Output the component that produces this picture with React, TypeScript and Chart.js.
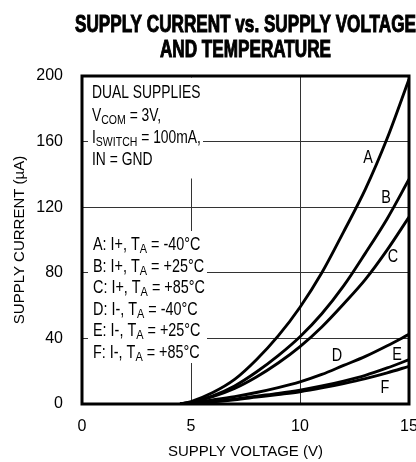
import React, { useEffect, useRef } from "react";
import { Chart, registerables } from "chart.js";

Chart.register(...registerables);

// ---- data ----
const voltage = [4.5, 5, 6, 7, 8, 9, 10, 11, 12, 13, 14, 15];
const curveA = [0, 1.5, 7, 15, 27, 41.5, 59, 80, 105, 131, 162, 198];
const curveB = [0, 1, 5, 11, 19.5, 29.5, 41, 55, 72, 92, 113, 137];
const curveC = [0, 1, 4.5, 9.5, 16.5, 25, 35, 47, 61, 76, 94, 114];
const curveD = [0, 0.7, 2.5, 4.5, 7, 10, 13.5, 18, 23.5, 29, 35.5, 42.5];
const curveE = [0, 0.5, 1.5, 3, 4.8, 6.5, 8.5, 11, 14, 17.5, 22, 27];
const curveF = [0, 0.4, 1.3, 2.6, 4.2, 5.8, 7.5, 9.8, 12.5, 15.5, 19, 23];
const seriesNames = ["A", "B", "C", "D", "E", "F"];
const seriesValues = [curveA, curveB, curveC, curveD, curveE, curveF];
const xTickValues = [0, 5, 10, 15];
const yTickValues = [0, 40, 80, 120, 160, 200];

const titleLines = ["SUPPLY CURRENT vs. SUPPLY VOLTAGE", "AND TEMPERATURE"];
const xTitle = "SUPPLY VOLTAGE (V)";
const yTitle = "SUPPLY CURRENT (\u00B5A)";

type Seg = { t: string; sub?: boolean };
const conditionLines: Seg[][] = [
  [{ t: "DUAL SUPPLIES" }],
  [{ t: "V" }, { t: "COM", sub: true }, { t: " = 3V," }],
  [{ t: "I" }, { t: "SWITCH", sub: true }, { t: " = 100mA," }],
  [{ t: "IN = GND" }],
];
const legendLines: Seg[][] = [
  [{ t: "A: I+, T" }, { t: "A", sub: true }, { t: " = -40\u00B0C" }],
  [{ t: "B: I+, T" }, { t: "A", sub: true }, { t: " = +25\u00B0C" }],
  [{ t: "C: I+, T" }, { t: "A", sub: true }, { t: " = +85\u00B0C" }],
  [{ t: "D: I-, T" }, { t: "A", sub: true }, { t: " = -40\u00B0C" }],
  [{ t: "E: I-, T" }, { t: "A", sub: true }, { t: " = +25\u00B0C" }],
  [{ t: "F: I-, T" }, { t: "A", sub: true }, { t: " = +85\u00B0C" }],
];
const curveLabelPos: [number, number][] = [
  [368, 158],
  [386, 198],
  [393, 257],
  [337, 356],
  [397, 355],
  [385, 388],
];

const FAMILY = '"Liberation Sans", Arial, sans-serif';
const GRID = "#333";

function drawRich(ctx: CanvasRenderingContext2D, x: number, y: number, segs: Seg[], size: number, hs: number) {
  ctx.save();
  ctx.translate(x, y);
  ctx.scale(hs, 1);
  ctx.textBaseline = "alphabetic";
  ctx.textAlign = "left";
  let cx = 0;
  for (const s of segs) {
    const fs = s.sub ? size * 0.76 : size;
    ctx.font = `${fs}px ${FAMILY}`;
    ctx.fillText(s.t, cx, s.sub ? size * 0.18 : 0);
    cx += ctx.measureText(s.t).width;
  }
  ctx.restore();
}

const decorPlugin = {
  id: "decor",
  beforeDatasetsDraw(chart: any) {
    const { ctx, chartArea } = chart;
    ctx.save();
    ctx.fillStyle = "#fff";
    // white boxes behind the in-plot text (they interrupt the grid)
    ctx.fillRect(88, chartArea.top + 1.5, 203 - 88, 177 - chartArea.top);
    ctx.fillRect(88, 231, 207 - 88, 363 - 231);
    ctx.restore();
  },
  afterDraw(chart: any) {
    const { ctx, chartArea } = chart;
    ctx.save();
    // frame
    ctx.strokeStyle = "#000";
    ctx.lineWidth = 3;
    ctx.strokeRect(chartArea.left, chartArea.top, chartArea.right - chartArea.left, chartArea.bottom - chartArea.top);
    ctx.fillStyle = "#000";
    // title
    const cx = (chartArea.left + chartArea.right) / 2;
    ctx.textAlign = "center";
    ctx.textBaseline = "alphabetic";
    ctx.font = `bold 23px ${FAMILY}`;
    ctx.lineWidth = 1;
    ctx.strokeStyle = "#000";
    [32, 57].forEach((by, i) => {
      ctx.save();
      ctx.translate(cx, by);
      ctx.scale(0.745, 1);
      ctx.fillText(titleLines[i], 0, 0);
      ctx.strokeText(titleLines[i], 0, 0);
      ctx.restore();
    });
    // condition block
    const condBase = [98, 121, 143, 165];
    conditionLines.forEach((l, i) => drawRich(ctx, 92, condBase[i], l, 18, 0.77));
    // legend block
    const legBase = [250, 271.5, 293, 314.5, 336, 357.5];
    legendLines.forEach((l, i) => drawRich(ctx, 93, legBase[i], l, 18, 0.8));
    // curve labels
    ctx.font = `18px ${FAMILY}`;
    ctx.textAlign = "center";
    ctx.textBaseline = "middle";
    seriesNames.forEach((n, i) => {
      const [lx, ly] = curveLabelPos[i];
      ctx.save();
      ctx.translate(lx, ly);
      ctx.scale(0.8, 1);
      ctx.fillText(n, 0, 0);
      ctx.restore();
    });
    ctx.restore();
  },
};

export default function App() {
  const ref = useRef<HTMLCanvasElement | null>(null);
  useEffect(() => {
    if (!ref.current) return;
    const tickFont = { family: FAMILY, size: 16 };
    const chart = new Chart(ref.current, {
      type: "line",
      data: {
        datasets: seriesValues.map((vals, i) => ({
          label: seriesNames[i],
          data: voltage.map((v, j) => ({ x: v, y: vals[j] })),
          borderColor: "#000",
          borderWidth: 2.9,
          pointRadius: 0,
          fill: false,
          cubicInterpolationMode: "monotone" as const,
        })),
      },
      options: {
        animation: false,
        responsive: false,
        maintainAspectRatio: false,
        layout: { padding: { top: 76, right: 7, left: 0, bottom: 0 } },
        plugins: { legend: { display: false }, tooltip: { enabled: false }, title: { display: false } },
        scales: {
          x: {
            type: "linear",
            min: 0,
            max: 15,
            afterBuildTicks: (s: any) => {
              s.ticks = xTickValues.map((v) => ({ value: v }));
            },
            ticks: { font: tickFont, color: "#000", padding: 13, maxRotation: 0, autoSkip: false },
            grid: { color: GRID, lineWidth: 1, drawTicks: false },
            border: { display: false },
            title: { display: true, text: xTitle, color: "#000", font: { family: FAMILY, size: 15 }, padding: { top: 0, bottom: 1 } },
            afterFit: (s: any) => {
              s.height = 58;
              s.paddingLeft = 0;
              s.paddingRight = 0;
            },
          },
          y: {
            type: "linear",
            min: 0,
            max: 200,
            afterBuildTicks: (s: any) => {
              s.ticks = yTickValues.map((v) => ({ value: v }));
            },
            ticks: { font: tickFont, color: "#000", padding: 19, autoSkip: false },
            grid: { color: GRID, lineWidth: 1, drawTicks: false },
            border: { display: false },
            title: { display: true, text: yTitle, color: "#000", font: { family: FAMILY, size: 15 }, padding: { top: 11, bottom: 0 } },
            afterFit: (s: any) => {
              s.width = 82;
              s.paddingTop = 0;
              s.paddingBottom = 0;
            },
          },
        },
      },
      plugins: [decorPlugin],
    });
    return () => chart.destroy();
  }, []);
  return (
    <div style={{ position: "absolute", left: 0, top: 0, width: 416, height: 462, background: "#fff" }}>
      <canvas ref={ref} width={416} height={462} />
    </div>
  );
}
